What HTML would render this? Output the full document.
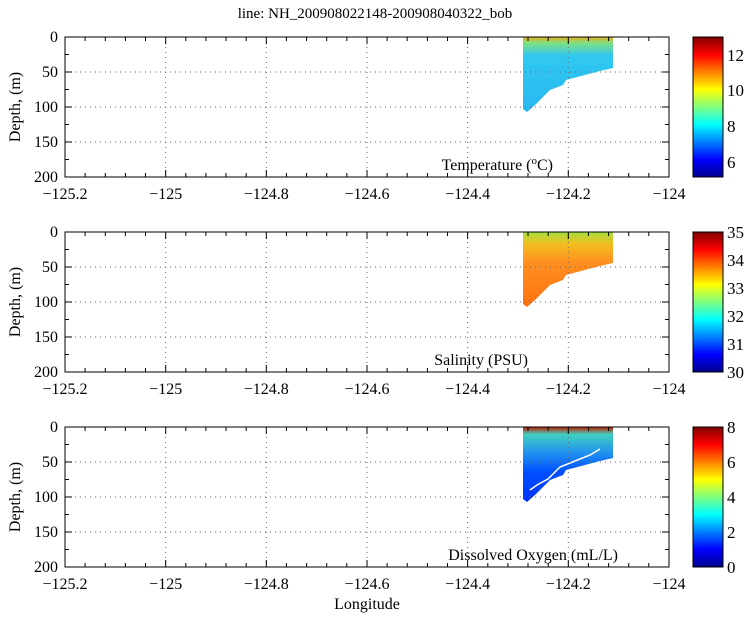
<!DOCTYPE html>
<html><head><style>body{margin:0;background:#fff}svg{display:block}svg text,svg tspan{font-family:"Liberation Serif","DejaVu Serif",serif}</style></head><body>
<svg width="750" height="618" xmlns="http://www.w3.org/2000/svg" xmlns:xlink="http://www.w3.org/1999/xlink" font-size="16">
<defs>
<linearGradient id="jet" x1="0" y1="1" x2="0" y2="0">
<stop offset="0" stop-color="#00008f"/><stop offset="0.125" stop-color="#0000ff"/><stop offset="0.375" stop-color="#00ffff"/><stop offset="0.625" stop-color="#ffff00"/><stop offset="0.875" stop-color="#ff0000"/><stop offset="1" stop-color="#800000"/>
</linearGradient>
<linearGradient id="tg" x1="0" y1="0" x2="0" y2="1">
<stop offset="0" stop-color="#e8b020"/><stop offset="0.08" stop-color="#80e080"/><stop offset="0.25" stop-color="#30c8f0"/><stop offset="1" stop-color="#28b8f0"/></linearGradient>
<linearGradient id="sg" x1="0" y1="0" x2="0" y2="1">
<stop offset="0" stop-color="#a0e040"/><stop offset="0.15" stop-color="#f0c020"/><stop offset="0.4" stop-color="#ff9020"/><stop offset="1" stop-color="#ff7010"/></linearGradient>
<linearGradient id="og" x1="0" y1="0" x2="0" y2="1">
<stop offset="0" stop-color="#c02000"/><stop offset="0.1" stop-color="#40d0c0"/><stop offset="0.35" stop-color="#2090f0"/><stop offset="0.6" stop-color="#0050ff"/><stop offset="1" stop-color="#0030ff"/></linearGradient>
<path id="shape" d="M523,0 L613,0 L613,31 L600,34 L566,43 L563,48 L550,53 L535,68 L527,75 L523,72 Z"/>
<g id="ax">
<g stroke="#666" stroke-dasharray="1,4"><line x1="65" y1="35" x2="669" y2="35"/><line x1="65" y1="70" x2="669" y2="70"/><line x1="65" y1="105" x2="669" y2="105"/>
<line x1="165.7" y1="0" x2="165.7" y2="140"/><line x1="266.3" y1="0" x2="266.3" y2="140"/><line x1="367" y1="0" x2="367" y2="140"/><line x1="467.6" y1="0" x2="467.6" y2="140"/><line x1="568.3" y1="0" x2="568.3" y2="140"/></g>
<rect x="65" y="0" width="604" height="140" fill="none" stroke="#000"/>
<g stroke="#000"><path d="M65,17.5h4M65,35h7M65,52.5h4M65,70h7M65,87.5h4M65,105h7M65,122.5h4M669,17.5h-4M669,35h-7M669,52.5h-4M669,70h-7M669,87.5h-4M669,105h-7M669,122.5h-4"/>
<path id="xt" d="M85.1,0v4M105.3,0v4M125.4,0v4M145.5,0v4M165.7,0v7M185.8,0v4M205.9,0v4M226,0v4M246.2,0v4M266.3,0v7M286.4,0v4M306.6,0v4M326.7,0v4M346.8,0v4M367,0v7M387.1,0v4M407.2,0v4M427.4,0v4M447.5,0v4M467.6,0v7M487.8,0v4M507.9,0v4M528,0v4M548.2,0v4M568.3,0v7M588.4,0v4M608.6,0v4M628.7,0v4M648.8,0v4"/>
<path transform="translate(0,140) scale(1,-1)" d="M85.1,0v4M105.3,0v4M125.4,0v4M145.5,0v4M165.7,0v7M185.8,0v4M205.9,0v4M226,0v4M246.2,0v4M266.3,0v7M286.4,0v4M306.6,0v4M326.7,0v4M346.8,0v4M367,0v7M387.1,0v4M407.2,0v4M427.4,0v4M447.5,0v4M467.6,0v7M487.8,0v4M507.9,0v4M528,0v4M548.2,0v4M568.3,0v7M588.4,0v4M608.6,0v4M628.7,0v4M648.8,0v4"/></g>
<g text-anchor="end"><text x="58" y="5">0</text><text x="58" y="40">50</text><text x="58" y="75">100</text><text x="58" y="110">150</text><text x="58" y="145">200</text></g>
<g text-anchor="middle"><text x="65" y="162">−125.2</text><text x="165.7" y="162">−125</text><text x="266.3" y="162">−124.8</text><text x="367" y="162">−124.6</text><text x="467.6" y="162">−124.4</text><text x="568.3" y="162">−124.2</text><text x="669" y="162">−124</text></g>
<text transform="translate(20,70) rotate(-90)" text-anchor="middle">Depth, (m)</text>
<rect x="693" y="0" width="30" height="140" fill="url(#jet)" stroke="#000"/>
</g>
</defs>
<text x="375" y="18" text-anchor="middle" font-size="15">line: NH_200908022148-200908040322_bob</text>

<g transform="translate(0,37)">
<use href="#shape" xlink:href="#shape" fill="url(#tg)"/>
<use href="#ax" xlink:href="#ax"/>
<text x="553" y="133" text-anchor="end">Temperature (<tspan font-size="11" dy="-6">o</tspan><tspan dy="6">C)</tspan></text>
<g font-size="17"><text x="727" y="24">12</text><text x="727" y="59">10</text><text x="727" y="95">8</text><text x="727" y="131">6</text></g>
</g>

<g transform="translate(0,232)">
<use href="#shape" xlink:href="#shape" fill="url(#sg)"/>
<use href="#ax" xlink:href="#ax"/>
<text x="528" y="133" text-anchor="end">Salinity (PSU)</text>
<g font-size="17"><text x="727" y="6">35</text><text x="727" y="34">34</text><text x="727" y="62">33</text><text x="727" y="90">32</text><text x="727" y="118">31</text><text x="727" y="146">30</text></g>
</g>

<g transform="translate(0,427)">
<use href="#shape" xlink:href="#shape" fill="url(#og)"/>
<path d="M600,22 L590,28 L575,34 L560,40 L548,52 L537,58 L530,63" fill="none" stroke="#fff" stroke-width="1.5"/>
<use href="#ax" xlink:href="#ax"/>
<text x="618" y="133" text-anchor="end">Dissolved Oxygen (mL/L)</text>
<g font-size="17"><text x="727" y="6">8</text><text x="727" y="41">6</text><text x="727" y="76">4</text><text x="727" y="111">2</text><text x="727" y="146">0</text></g>
<text x="367" y="182" text-anchor="middle">Longitude</text>
</g>
</svg>
</body></html>
